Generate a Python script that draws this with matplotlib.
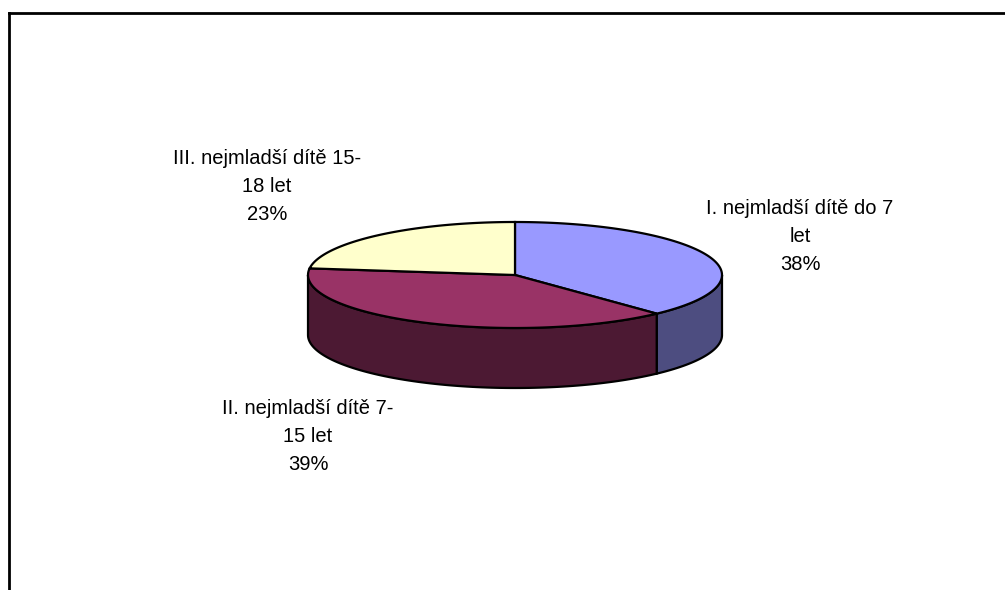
import numpy as np
import matplotlib.pyplot as plt
from matplotlib.patches import Polygon
plt.rcParams['font.family'] = ['Liberation Sans', 'DejaVu Sans']

#%% Data
labels = ['I. nejmladší dítě do 7\nlet', 'II. nejmladší dítě 7-\n15 let', 'III. nejmladší dítě 15-\n18 let']
values = [38, 39, 23]
top_colors = ['#9999FF', '#993366', '#FFFFCC']
side_colors = ['#4D4D80', '#4C1933', '#80806A']
label_pos = [(800, 237), (308, 437), (267, 186)]   # label centres, pixels

#%% Pie geometry (pixels, y downward)
cx, cy = 515, 275
rx, ry = 207, 53
depth = 60

def ellipse(t):
    t = np.radians(t)
    return cx + rx*np.cos(t), cy - ry*np.sin(t)

fig = plt.figure(figsize=(10.05, 5.9), dpi=100)
ax = fig.add_axes([0, 0, 1, 1])
ax.set_xlim(0, 1005)
ax.set_ylim(590, 0)
ax.axis('off')

frac = np.array(values) / np.sum(values)
cum = np.concatenate([[0], np.cumsum(frac)])
t_hi = 90 - cum[:-1]*360
t_lo = 90 - cum[1:]*360

# side walls (front half only: -180..0)
for i in range(len(values)):
    lo = max(t_lo[i], -180)
    hi = min(t_hi[i], 0)
    if hi <= lo:
        continue
    t = np.linspace(lo, hi, 100)
    x, y = ellipse(t)
    xs = np.concatenate([x, x[::-1]])
    ys = np.concatenate([y, (y + depth)[::-1]])
    ax.add_patch(Polygon(np.column_stack([xs, ys]), closed=True,
                         facecolor=side_colors[i], edgecolor='black', lw=1.6))

# top faces
for i in range(len(values)):
    t = np.linspace(t_lo[i], t_hi[i], 200)
    x, y = ellipse(t)
    xs = np.concatenate([[cx], x])
    ys = np.concatenate([[cy], y])
    ax.add_patch(Polygon(np.column_stack([xs, ys]), closed=True,
                         facecolor=top_colors[i], edgecolor='black', lw=1.6))

# labels
for i in range(len(values)):
    txt = labels[i] + '\n%d%%' % round(frac[i]*100)
    ax.text(label_pos[i][0], label_pos[i][1], txt, ha='center', va='center',
            fontsize=14.5, linespacing=1.6)

# chart frame (left and top edges visible)
ax.plot([9, 9], [590, 13], color='black', lw=2)
ax.plot([9, 1005], [13, 13], color='black', lw=2)

fig.savefig('out.png', dpi=100)
